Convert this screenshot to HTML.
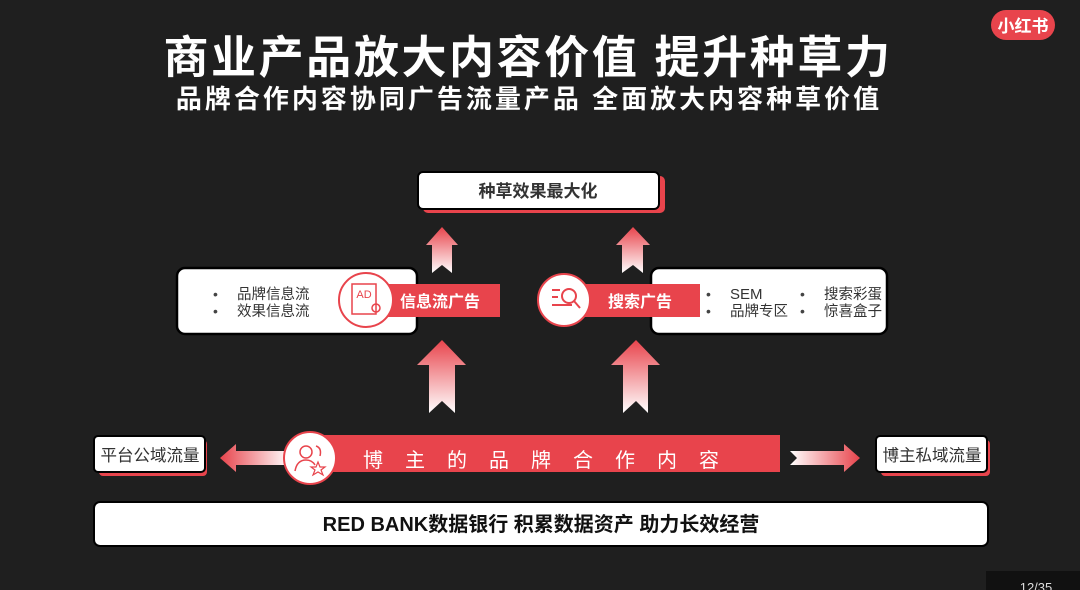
<!DOCTYPE html>
<html><head><meta charset="utf-8"><style>
body{margin:0;width:1080px;height:590px;background:#1f1f1f;overflow:hidden;font-family:"Liberation Sans","Noto Sans CJK SC",sans-serif;}
</style></head><body>
<svg width="1080" height="590" xmlns="http://www.w3.org/2000/svg" style="position:absolute;left:0;top:0;font-family:'Liberation Sans','Noto Sans CJK SC',sans-serif">
<defs>
<linearGradient id="gu" x1="0" y1="0" x2="0" y2="1"><stop offset="0" stop-color="#e8444c"/><stop offset="1" stop-color="#ffffff"/></linearGradient>
<linearGradient id="gl" x1="0" y1="0" x2="1" y2="0"><stop offset="0" stop-color="#e8444c"/><stop offset="1" stop-color="#ffffff"/></linearGradient>
<linearGradient id="gr" x1="0" y1="0" x2="1" y2="0"><stop offset="0" stop-color="#ffffff"/><stop offset="1" stop-color="#e8444c"/></linearGradient>
</defs>
<text x="528" y="73" fill="#fff" font-size="45" font-weight="bold" text-anchor="middle" letter-spacing="2.6">商业产品放大内容价值 提升种草力</text>
<text x="529" y="108" fill="#fff" font-size="26" font-weight="bold" text-anchor="middle" letter-spacing="3">品牌合作内容协同广告流量产品 全面放大内容种草价值</text>
<rect x="991" y="10" width="64" height="30" rx="15" fill="#e8444c"/>
<text x="1023" y="32" fill="#fff" font-size="17" font-weight="bold" text-anchor="middle">小红书</text>

<rect x="423" y="176" width="242" height="37" rx="5" fill="#e8444c"/>
<rect x="418" y="172" width="241" height="37" rx="5" fill="#fff" stroke="#000" stroke-width="2"/>
<text x="538" y="197" fill="#333" font-size="17" font-weight="bold" text-anchor="middle">种草效果最大化</text>

<polygon points="442,227 458,245 452,245 452,273 442,265 432,273 432,245 426,245" fill="url(#gu)"/>
<polygon points="633,227 650,245 643,245 643,273 633,265 622,273 622,245 616,245" fill="url(#gu)"/>

<rect x="177" y="268" width="240" height="66" rx="8" fill="#fff" stroke="#000" stroke-width="2.5"/>
<text x="213" y="299" fill="#444" font-size="14">•</text><text x="237" y="299" fill="#333" font-size="14.5">品牌信息流</text>
<text x="213" y="316" fill="#444" font-size="14">•</text><text x="237" y="316" fill="#333" font-size="14.5">效果信息流</text>
<rect x="368" y="284" width="132" height="33" fill="#e8444c"/>
<text x="400" y="307" fill="#fff" font-size="16" font-weight="bold">信息流广告</text>
<circle cx="366" cy="300" r="27" fill="#fff" stroke="#e8444c" stroke-width="2"/>
<rect x="352" y="284" width="24" height="30" fill="none" stroke="#e8444c" stroke-width="1.5"/>
<text x="364" y="298" fill="#e8444c" font-size="11" text-anchor="middle">AD</text>
<circle cx="376" cy="308" r="4" fill="none" stroke="#e8444c" stroke-width="1.5"/>

<rect x="651" y="268" width="236" height="66" rx="8" fill="#fff" stroke="#000" stroke-width="2.5"/>
<rect x="564" y="284" width="136" height="33" fill="#e8444c"/>
<text x="608" y="307" fill="#fff" font-size="16" font-weight="bold">搜索广告</text>
<circle cx="564" cy="300" r="26" fill="#fff" stroke="#e8444c" stroke-width="2"/>
<circle cx="569" cy="296" r="7" fill="none" stroke="#e8444c" stroke-width="2"/>
<line x1="574" y1="301" x2="580" y2="308" stroke="#e8444c" stroke-width="2"/>
<line x1="552" y1="290" x2="560" y2="290" stroke="#e8444c" stroke-width="2"/>
<line x1="552" y1="297" x2="558" y2="297" stroke="#e8444c" stroke-width="2"/>
<line x1="552" y1="305" x2="572" y2="305" stroke="#e8444c" stroke-width="2"/>
<text x="706" y="299" fill="#444" font-size="14">•</text><text x="730" y="299" fill="#333" font-size="15">SEM</text>
<text x="706" y="316" fill="#444" font-size="14">•</text><text x="730" y="316" fill="#333" font-size="14.5">品牌专区</text>
<text x="800" y="299" fill="#444" font-size="14">•</text><text x="824" y="299" fill="#333" font-size="14.5">搜索彩蛋</text>
<text x="800" y="316" fill="#444" font-size="14">•</text><text x="824" y="316" fill="#333" font-size="14.5">惊喜盒子</text>

<polygon points="442,340 466,365 455,365 455,413 442,401 429,413 429,365 417,365" fill="url(#gu)"/>
<polygon points="636,340 660,365 648,365 648,413 636,401 623,413 623,365 611,365" fill="url(#gu)"/>

<polygon points="220,458 236,444 236,451 290,451 290,465 236,465 236,472" fill="url(#gl)"/>
<polygon points="790,451 844,451 844,444 860,458 844,472 844,465 790,465 797,458" fill="url(#gr)"/>

<rect x="99" y="440" width="108" height="36" rx="4" fill="#e8444c"/>
<rect x="94" y="436" width="111" height="36" rx="4" fill="#fff" stroke="#000" stroke-width="2"/>
<text x="150" y="461" fill="#333" font-size="16.5" text-anchor="middle">平台公域流量</text>
<rect x="881" y="440" width="109" height="36" rx="4" fill="#e8444c"/>
<rect x="876" y="436" width="111" height="36" rx="4" fill="#fff" stroke="#000" stroke-width="2"/>
<text x="932" y="461" fill="#333" font-size="16.5" text-anchor="middle">博主私域流量</text>

<rect x="300" y="435" width="480" height="37" fill="#e8444c"/>
<circle cx="310" cy="458" r="26" fill="#fff" stroke="#e8444c" stroke-width="2"/>
<circle cx="306" cy="452" r="6" fill="none" stroke="#e8444c" stroke-width="1.5"/>
<path d="M295 471 Q297 460 306 460 Q312 460 315 465" fill="none" stroke="#e8444c" stroke-width="1.5"/>
<path d="M316 446 Q322 448 320 456" fill="none" stroke="#e8444c" stroke-width="1.5"/>
<polygon points="318,462 320,467 325,467 321,470 323,475 318,472 313,475 315,470 311,467 316,467" fill="none" stroke="#e8444c" stroke-width="1.2"/>
<text x="552" y="467" fill="#fff" font-size="20" text-anchor="middle" letter-spacing="22">博主的品牌合作内容</text>

<rect x="94" y="502" width="894" height="44" rx="6" fill="#fff" stroke="#000" stroke-width="2"/>
<text x="541" y="531" fill="#111" font-size="20" font-weight="bold" text-anchor="middle">RED BANK数据银行  积累数据资产 助力长效经营</text>

<rect x="986" y="571" width="94" height="19" fill="#111"/>
<text x="1036" y="592" fill="#ddd" font-size="13" text-anchor="middle">12/35</text>
</svg>
</body></html>
